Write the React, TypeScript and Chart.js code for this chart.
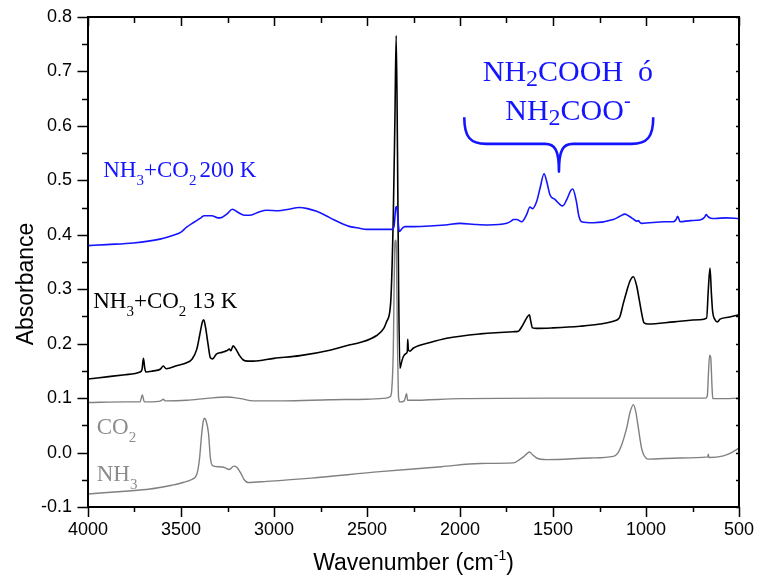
import React, { useEffect, useRef } from 'react';
import { Chart, registerables } from 'chart.js';

Chart.register(...registerables);

// ---------- data ----------
const wnBlue = [4000, 3900, 3756, 3613, 3541, 3500, 3470, 3440, 3416, 3390, 3376, 3335, 3300, 3290, 3254, 3224, 3192, 3160, 3129, 3080, 3039, 2977, 2920, 2866, 2820, 2771, 2720, 2681, 2630, 2591, 2540, 2502, 2450, 2400, 2367, 2355, 2345, 2340, 2333, 2326, 2310, 2296, 2250, 2161, 2080, 2000, 1920, 1850, 1749, 1725, 1713, 1695, 1668, 1642, 1624, 1610, 1588, 1570, 1548, 1534, 1516, 1490, 1448, 1427, 1405, 1394, 1376, 1360, 1346, 1283, 1176, 1140, 1113, 1090, 1065, 1051, 1040, 1036, 1024, 900, 853, 838, 830, 822, 817, 760, 710, 685, 677, 668, 656, 629, 570, 500];
const absBlue = [0.380, 0.382, 0.385, 0.392, 0.399, 0.405, 0.414, 0.421, 0.426, 0.432, 0.435, 0.435, 0.431, 0.431, 0.438, 0.447, 0.441, 0.436, 0.436, 0.442, 0.445, 0.444, 0.447, 0.450, 0.448, 0.443, 0.435, 0.428, 0.420, 0.415, 0.412, 0.410, 0.410, 0.410, 0.410, 0.415, 0.450, 0.452, 0.425, 0.406, 0.412, 0.415, 0.415, 0.416, 0.418, 0.421, 0.419, 0.418, 0.421, 0.425, 0.428, 0.428, 0.424, 0.437, 0.451, 0.448, 0.461, 0.485, 0.512, 0.498, 0.473, 0.465, 0.453, 0.464, 0.481, 0.484, 0.464, 0.433, 0.424, 0.422, 0.428, 0.434, 0.438, 0.434, 0.428, 0.425, 0.426, 0.424, 0.421, 0.424, 0.424, 0.428, 0.434, 0.428, 0.424, 0.426, 0.427, 0.432, 0.437, 0.434, 0.431, 0.430, 0.431, 0.430];

const wnBlack = [4000, 3900, 3800, 3720, 3710, 3702, 3695, 3689, 3650, 3612, 3595, 3580, 3520, 3470, 3440, 3415, 3400, 3385, 3378, 3368, 3355, 3342, 3330, 3310, 3280, 3255, 3240, 3232, 3220, 3205, 3185, 3165, 3140, 3111, 3000, 2860, 2700, 2591, 2538, 2448, 2410, 2394, 2373, 2359, 2350, 2343, 2336, 2330, 2323, 2315, 2305, 2290, 2283, 2281, 2278, 2270, 2250, 2161, 2072, 1892, 1713, 1686, 1668, 1642, 1627, 1620, 1610, 1588, 1500, 1355, 1247, 1167, 1150, 1140, 1122, 1104, 1085, 1068, 1050, 1036, 1014, 1010, 988, 850, 710, 674, 665, 656, 648, 642, 629, 616, 602, 550, 500];
const absBlack = [0.135, 0.139, 0.143, 0.148, 0.152, 0.173, 0.155, 0.148, 0.150, 0.153, 0.159, 0.154, 0.160, 0.165, 0.172, 0.190, 0.215, 0.240, 0.244, 0.230, 0.200, 0.174, 0.172, 0.181, 0.184, 0.187, 0.190, 0.187, 0.196, 0.190, 0.178, 0.170, 0.168, 0.168, 0.173, 0.178, 0.188, 0.198, 0.202, 0.215, 0.228, 0.241, 0.274, 0.428, 0.611, 0.766, 0.550, 0.300, 0.155, 0.165, 0.176, 0.182, 0.186, 0.208, 0.190, 0.186, 0.192, 0.202, 0.210, 0.218, 0.222, 0.223, 0.231, 0.247, 0.253, 0.242, 0.229, 0.228, 0.229, 0.232, 0.236, 0.242, 0.245, 0.250, 0.274, 0.296, 0.316, 0.323, 0.306, 0.280, 0.241, 0.238, 0.236, 0.240, 0.244, 0.247, 0.299, 0.339, 0.290, 0.260, 0.244, 0.240, 0.245, 0.249, 0.253];

const wnCO2 = [4000, 3800, 3720, 3708, 3697, 3620, 3604, 3595, 3586, 3470, 3350, 3254, 3180, 3111, 2950, 2700, 2502, 2400, 2375, 2367, 2359, 2350, 2346, 2342, 2336, 2330, 2323, 2300, 2287, 2282, 2270, 2000, 1500, 1000, 680, 670, 665, 658, 652, 645, 641, 600, 500];
const absCO2 = [0.092, 0.093, 0.093, 0.106, 0.093, 0.094, 0.096, 0.098, 0.095, 0.096, 0.100, 0.102, 0.099, 0.095, 0.095, 0.097, 0.098, 0.100, 0.103, 0.115, 0.183, 0.385, 0.390, 0.370, 0.200, 0.100, 0.093, 0.095, 0.108, 0.096, 0.096, 0.099, 0.100, 0.100, 0.100, 0.105, 0.140, 0.179, 0.175, 0.120, 0.099, 0.099, 0.100];

const wnNH3 = [4000, 3800, 3667, 3550, 3488, 3440, 3415, 3400, 3390, 3380, 3374, 3365, 3352, 3342, 3330, 3300, 3270, 3240, 3215, 3200, 3180, 3160, 3140, 3039, 2800, 2430, 2100, 1892, 1713, 1680, 1659, 1640, 1627, 1610, 1588, 1534, 1300, 1176, 1150, 1130, 1104, 1085, 1068, 1055, 1042, 1025, 1015, 1000, 988, 817, 668, 665, 662, 584, 540, 500];
const absNH3 = [-0.076, -0.071, -0.067, -0.060, -0.055, -0.049, -0.040, -0.010, 0.030, 0.058, 0.063, 0.058, 0.035, -0.010, -0.024, -0.026, -0.027, -0.031, -0.025, -0.027, -0.037, -0.050, -0.055, -0.053, -0.047, -0.035, -0.026, -0.020, -0.019, -0.013, -0.008, -0.002, 0.001, -0.004, -0.010, -0.013, -0.010, -0.007, 0.000, 0.015, 0.045, 0.075, 0.088, 0.075, 0.047, 0.010, -0.002, -0.010, -0.012, -0.010, -0.008, -0.003, -0.009, -0.006, 0.000, 0.008];

const xMin = 500;
const xMax = 4000;
const xStep = 500;
const yMin = -0.1;
const yMax = 0.8;
const yStep = 0.1;

const xTitle = 'Wavenumber (cm';
const xTitleSup = '-1';
const yTitle = 'Absorbance';

// annotation anchors in data units [wavenumber, absorbance]
const label200K = { wn: 3918, a: 0.507 };
const label13K = { wn: 3972, a: 0.265 };
const labelCO2 = { wn: 3953, a: 0.035 };
const labelNH3 = { wn: 3953, a: -0.052 };
const labelCarb1 = { wn: 1420, a: 0.682 };
const labelCarb2 = { wn: 1420, a: 0.610 };
const brace = { left: 1977, right: 961, tip: 1468, top: 0.616, mid: 0.567, bottom: 0.516 };

const BLUE = '#1414ff';
const GRAY = '#808080';
const GRAY_TEXT = '#8c8c8c';
const SANS = '"Liberation Sans", Arial, sans-serif';
const SERIF = '"Liberation Serif", "Times New Roman", serif';

type Seg = { t: string; s: number; dy: number };

function drawRich(ctx: CanvasRenderingContext2D, segs: Seg[], x: number, y: number, family: string, color: string, align: 'left' | 'center') {
  let total = 0;
  const widths = segs.map((sg) => {
    ctx.font = `${sg.s}px ${family}`;
    const w = ctx.measureText(sg.t).width;
    total += w;
    return w;
  });
  let cx = align === 'center' ? x - total / 2 : x;
  ctx.fillStyle = color;
  ctx.textAlign = 'left';
  ctx.textBaseline = 'alphabetic';
  segs.forEach((sg, i) => {
    ctx.font = `${sg.s}px ${family}`;
    ctx.fillText(sg.t, cx, y + sg.dy);
    cx += widths[i];
  });
}

const pts = (xs: number[], ys: number[]) => xs.map((x, i) => ({ x, y: ys[i] }));

const decorPlugin = {
  id: 'decor',
  afterDraw(chart: any) {
    const { ctx, chartArea: a } = chart;
    const xs = chart.scales.x;
    const ys = chart.scales.y;
    ctx.save();
    // frame
    ctx.strokeStyle = '#000';
    ctx.lineWidth = 2;
    ctx.strokeRect(a.left, a.top, a.right - a.left, a.bottom - a.top);
    // ticks
    ctx.lineWidth = 1.5;
    ctx.beginPath();
    for (let v = xMin; v <= xMax; v += xStep / 2) {
      const px = Math.round(xs.getPixelForValue(v)) + 0.5;
      const major = v % xStep === 0;
      ctx.moveTo(px, a.bottom);
      ctx.lineTo(px, a.bottom + (major ? 10 : 5));
      ctx.moveTo(px, a.top);
      ctx.lineTo(px, a.top + (major ? 9 : 6));
    }
    const nY = Math.round((yMax - yMin) / (yStep / 2));
    for (let i = 0; i <= nY; i++) {
      const v = yMin + (i * yStep) / 2;
      const py = Math.round(ys.getPixelForValue(v)) + 0.5;
      const major = i % 2 === 0;
      ctx.moveTo(a.left - (major ? 10.5 : 6), py);
      ctx.lineTo(a.left, py);
      ctx.moveTo(a.right - 3, py);
      ctx.lineTo(a.right, py);
    }
    ctx.stroke();

    // axis titles
    drawRich(ctx, [
      { t: xTitle, s: 23, dy: 0 },
      { t: xTitleSup, s: 14, dy: -10 },
      { t: ')', s: 23, dy: 0 },
    ], (a.left + a.right) / 2, 570, SANS, '#000', 'center');
    ctx.save();
    ctx.translate(a.left - 55, (a.top + a.bottom) / 2 + 22);
    ctx.rotate(-Math.PI / 2);
    drawRich(ctx, [{ t: yTitle, s: 23, dy: 0 }], 0, 0, SANS, '#000', 'center');
    ctx.restore();

    const X = (wn: number) => xs.getPixelForValue(wn);
    const Y = (v: number) => ys.getPixelForValue(v);

    // series labels
    drawRich(ctx, [
      { t: 'NH', s: 23, dy: 0 }, { t: '3', s: 15, dy: 8 },
      { t: '+CO', s: 23, dy: 0 }, { t: '2', s: 15, dy: 8 },
      { t: ' ', s: 12, dy: 0 },
      { t: '200 K', s: 23, dy: 0 },
    ], X(label200K.wn), Y(label200K.a), SERIF, BLUE, 'left');
    drawRich(ctx, [
      { t: 'NH', s: 23, dy: 0 }, { t: '3', s: 15, dy: 8 },
      { t: '+CO', s: 23, dy: 0 }, { t: '2', s: 15, dy: 8 },
      { t: ' 13 K', s: 23, dy: 0 },
    ], X(label13K.wn), Y(label13K.a), SERIF, '#000', 'left');
    drawRich(ctx, [
      { t: 'CO', s: 23, dy: 0 }, { t: '2', s: 15, dy: 8 },
    ], X(labelCO2.wn), Y(labelCO2.a), SERIF, GRAY_TEXT, 'left');
    drawRich(ctx, [
      { t: 'NH', s: 23, dy: 0 }, { t: '3', s: 15, dy: 8 },
    ], X(labelNH3.wn), Y(labelNH3.a), SERIF, GRAY_TEXT, 'left');

    drawRich(ctx, [
      { t: 'NH', s: 30, dy: 0 }, { t: '2', s: 24, dy: 5 },
      { t: 'COOH  ó', s: 30, dy: 0 },
    ], X(labelCarb1.wn), Y(labelCarb1.a), SERIF, BLUE, 'center');
    drawRich(ctx, [
      { t: 'NH', s: 30, dy: 0 }, { t: '2', s: 24, dy: 5 },
      { t: 'COO', s: 30, dy: 0 }, { t: '-', s: 20, dy: -13 },
    ], X(labelCarb2.wn), Y(labelCarb2.a), SERIF, BLUE, 'center');

    // brace
    const L = X(brace.left), R = X(brace.right), T = X(brace.tip);
    const yt = Y(brace.top), ym = Y(brace.mid), yb = Y(brace.bottom);
    ctx.strokeStyle = BLUE;
    ctx.lineWidth = 2.6;
    ctx.lineJoin = 'round';
    ctx.beginPath();
    ctx.moveTo(L, yt);
    ctx.bezierCurveTo(L, yt + 20, L + 6, ym, L + 22, ym);
    ctx.lineTo(T - 14, ym);
    ctx.bezierCurveTo(T - 4, ym, T, ym + 6, T, yb);
    ctx.bezierCurveTo(T, ym + 6, T + 4, ym, T + 14, ym);
    ctx.lineTo(R - 22, ym);
    ctx.bezierCurveTo(R - 6, ym, R, yt + 20, R, yt);
    ctx.stroke();
    ctx.restore();
  },
};

export default function App() {
  const ref = useRef<HTMLCanvasElement | null>(null);
  useEffect(() => {
    if (!ref.current) return;
    const common = { pointRadius: 0, fill: false, cubicInterpolationMode: 'monotone' as const };
    const chart = new Chart(ref.current, {
      type: 'line',
      data: {
        datasets: [
          { ...common, label: 'NH3+CO2 200 K', data: pts(wnBlue, absBlue), borderColor: BLUE, borderWidth: 1.6 },
          { ...common, label: 'NH3', data: pts(wnNH3, absNH3), borderColor: GRAY, borderWidth: 1.4 },
          { ...common, label: 'CO2', data: pts(wnCO2, absCO2), borderColor: GRAY, borderWidth: 1.4 },
          { ...common, label: 'NH3+CO2 13 K', data: pts(wnBlack, absBlack), borderColor: '#000', borderWidth: 1.6 },
        ],
      },
      options: {
        animation: false,
        responsive: false,
        events: [],
        layout: { padding: { top: 17, right: 19, left: 0, bottom: 0 } },
        plugins: { legend: { display: false }, tooltip: { enabled: false } },
        scales: {
          x: {
            type: 'linear',
            reverse: true,
            min: xMin,
            max: xMax,
            grid: { display: false, drawTicks: false },
            border: { display: false },
            ticks: {
              stepSize: xStep,
              color: '#000',
              font: { size: 18, family: SANS },
              padding: 12,
              maxRotation: 0,
              callback: (v: any) => String(Math.round(Number(v))),
            },
            afterFit: (s: any) => { s.height = 69; s.paddingLeft = 0; s.paddingRight = 0; },
          },
          y: {
            type: 'linear',
            min: yMin,
            max: yMax,
            grid: { display: false, drawTicks: false },
            border: { display: false },
            ticks: {
              stepSize: yStep,
              color: '#000',
              font: { size: 18, family: SANS },
              padding: 16,
              callback: (v: any) => Number(v).toFixed(1),
            },
            afterFit: (s: any) => { s.width = 88; s.paddingTop = 0; s.paddingBottom = 0; },
          },
        },
      },
      plugins: [decorPlugin],
    });
    return () => chart.destroy();
  }, []);
  return (
    <div style={{ position: 'absolute', left: 0, top: 0, width: 758, height: 576, background: '#fff' }}>
      <canvas ref={ref} width={758} height={576} style={{ display: 'block' }} />
    </div>
  );
}
